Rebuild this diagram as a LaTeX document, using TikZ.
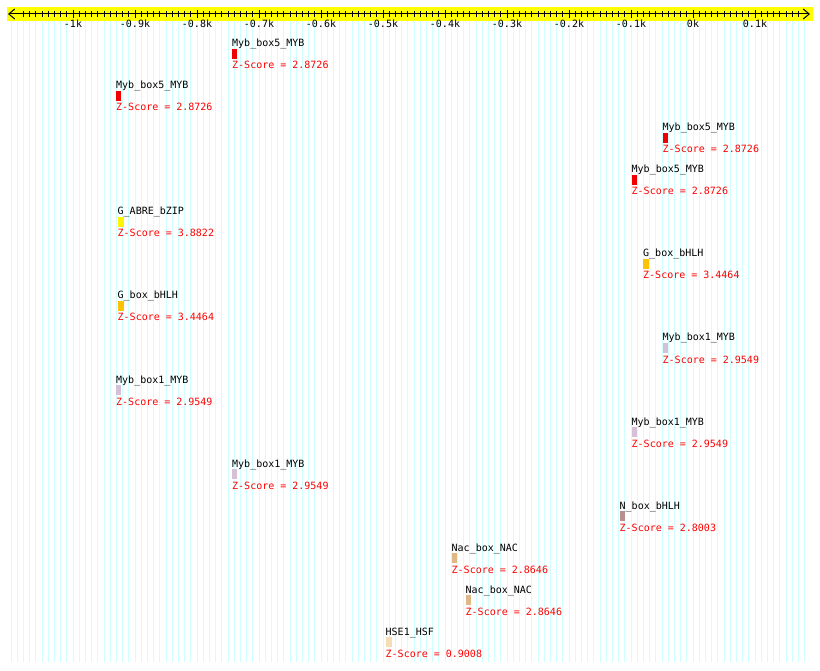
\documentclass[tikz,border=0pt]{standalone}
\usepackage{fontspec}
\setmonofont{DejaVu Sans Mono}
\usetikzlibrary{arrows.meta}

\definecolor{rulerfill}{RGB}{255,255,0}
\definecolor{gridcyan}{RGB}{208,255,255}
\definecolor{mybfive}{RGB}{240,0,0}
\definecolor{gabre}{RGB}{255,245,0}
\definecolor{gbox}{RGB}{255,194,0}
\definecolor{mybone}{RGB}{216,191,216}
\definecolor{nbox}{RGB}{188,143,143}
\definecolor{nac}{RGB}{222,184,135}
\definecolor{hse}{RGB}{245,222,179}
\definecolor{zred}{RGB}{255,0,0}

\tikzset{
  gridline/.style={gridcyan, line width=1pt},
  axisline/.style={black, line width=1pt},
  tickmark/.style={black, line width=1pt},
  motiflabel/.style={anchor=base west, inner sep=0pt, black},
  zlabel/.style={anchor=base west, inner sep=0pt, zred},
  ticklabel/.style={anchor=base, inner sep=0pt, black}
}

\begin{document}
\begin{tikzpicture}[x=1pt,y=-1pt,line cap=butt,
  font=\ttfamily\fontsize{10}{12}\selectfont]
\path[use as bounding box] (0,0) rectangle (820,671);

\def\zeropos{693}
\def\bpscale{0.62}

% background grid, one line every 10 bp
\foreach \p in {-1100,-1090,...,180}{
  \draw[gridline] ({\zeropos+\bpscale*\p},21) -- ({\zeropos+\bpscale*\p},662);
}

% ruler
\fill[rulerfill] (7,7) rectangle (813,21);
\coordinate (Lend) at (8,14);
\coordinate (Rend) at (810,14);
\draw[axisline,{Straight Barb[length=6pt,width=10pt]}-{Straight Barb[length=6pt,width=10pt]}]
  (Lend) -- (Rend);
\foreach \p in {-1080,-1070,...,170}{
  \draw[tickmark] ({\zeropos+\bpscale*\p},11.5) -- ({\zeropos+\bpscale*\p},17);
}
\foreach \p/\t [count=\i] in {-1000/-1k,-900/-0.9k,-800/-0.8k,-700/-0.7k,-600/-0.6k,
  -500/-0.5k,-400/-0.4k,-300/-0.3k,-200/-0.2k,-100/-0.1k,0/0k,100/0.1k}{
  \draw[tickmark] ({\zeropos+\bpscale*\p},10) -- ({\zeropos+\bpscale*\p},18.5);
  \node[ticklabel] (tick\i) at ({\zeropos+\bpscale*\p},28) {\t};
}

% motifs: row / left edge / name / colour / width / z-score
\foreach \k/\xs/\nm/\col/\w/\zs in {
  0/232/Myb\_box5\_MYB/mybfive/5/2.8726,
  1/116/Myb\_box5\_MYB/mybfive/5/2.8726,
  2/662.5/Myb\_box5\_MYB/mybfive/5/2.8726,
  3/631.5/Myb\_box5\_MYB/mybfive/5/2.8726,
  4/117.5/G\_ABRE\_bZIP/gabre/6/3.8822,
  5/643/G\_box\_bHLH/gbox/6/3.4464,
  6/117.5/G\_box\_bHLH/gbox/6/3.4464,
  7/662.5/Myb\_box1\_MYB/mybone/5/2.9549,
  8/116/Myb\_box1\_MYB/mybone/5/2.9549,
  9/631.5/Myb\_box1\_MYB/mybone/5/2.9549,
  10/232/Myb\_box1\_MYB/mybone/5/2.9549,
  11/619.5/N\_box\_bHLH/nbox/5/2.8003,
  12/451.5/Nac\_box\_NAC/nac/5/2.8646,
  13/465.5/Nac\_box\_NAC/nac/5/2.8646,
  14/385.5/HSE1\_HSF/hse/6/0.9008}{
  \pgfmathsetmacro{\yb}{47+42*\k}
  \node[motiflabel] (lab\k) at (\xs,\yb) {\nm};
  \fill[\col] (\xs,\yb+2) rectangle ({\xs+\w},\yb+12);
  \node[zlabel] (z\k) at (\xs,\yb+22) {Z-Score = \zs};
}
\end{tikzpicture}
\end{document}
